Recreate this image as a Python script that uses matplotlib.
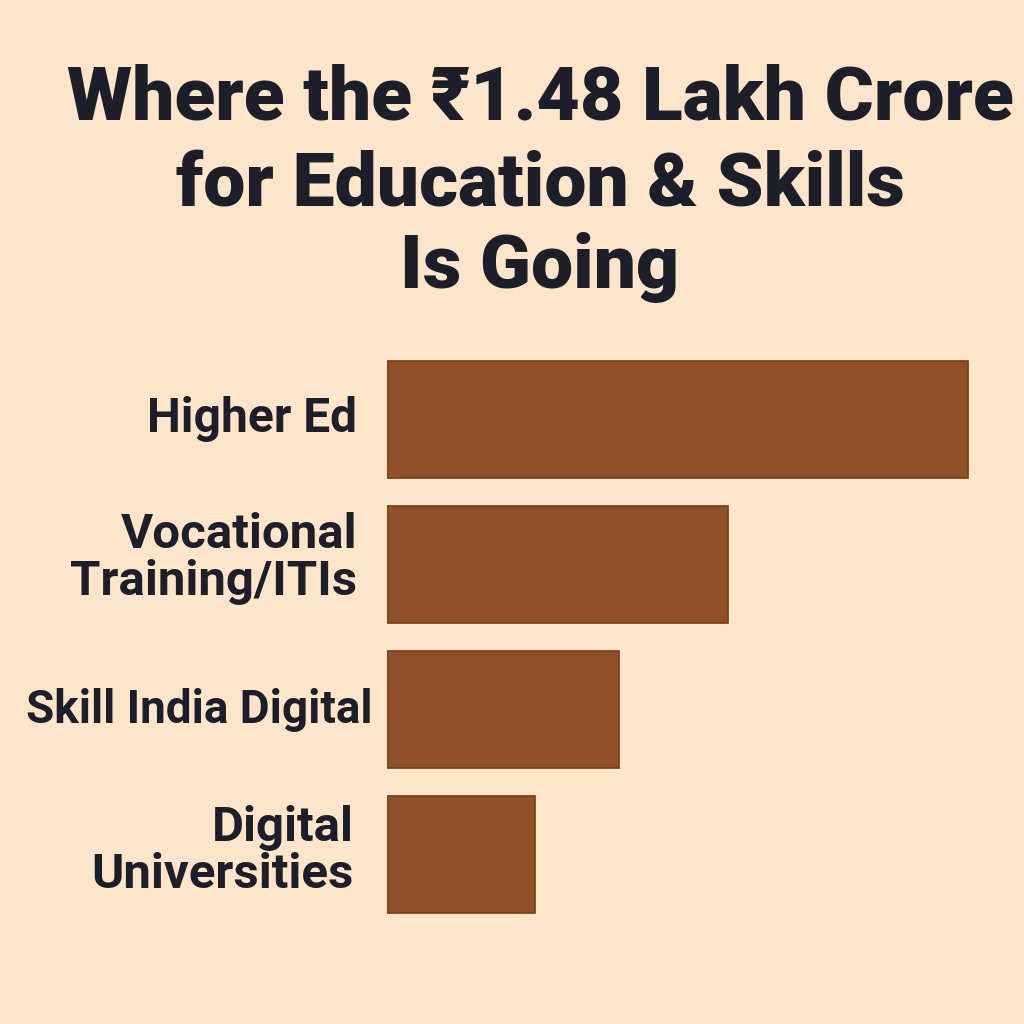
import matplotlib
matplotlib.use("Agg")
import matplotlib.pyplot as plt
import matplotlib.transforms as mtransforms

categories = ["Higher Ed", "Vocational\nTraining/ITIs", "Skill India Digital", "Digital\nUniversities"]
values = [58.1, 34.1, 23.2, 14.8]
title_lines = ["Where the \u20b91.48 Lakh Crore", "for Education & Skills", "Is Going"]

bg = "#FDE5C9"
bar_color = "#8F5028"
edge_color = "#7A3A14"
text_color = "#1C1E2A"
fam = ["Roboto", "DejaVu Sans"]

fig = plt.figure(figsize=(10.24, 10.24), dpi=100, facecolor=bg)
ax = fig.add_axes([387/1024, 1-927/1024, 637/1024, 580/1024])
ax.set_facecolor(bg)
ypos = list(range(len(categories)))
ax.barh(ypos, values, height=0.807, color=bar_color, edgecolor=edge_color, linewidth=1.2)
ax.set_xlim(0, 63.7)
ax.set_ylim(3.5, -0.5)
ax.set_yticks([])
ax.set_xticks([])
for s in ax.spines.values():
    s.set_visible(False)

trans = mtransforms.blended_transform_factory(ax.transAxes, ax.transData)
label_x = [-30/637, -30/637, -14/637, -33/637]
label_size = [34.5, 35.5, 33, 35.5]
label_dy = [0, -0.04, 0, -0.02]
for y, lab, lx, fs, dy in zip(ypos, categories, label_x, label_size, label_dy):
    ax.text(lx, y + dy, lab, transform=trans, ha="right", va="center", fontsize=fs,
            fontweight="bold", color=text_color, family=fam, linespacing=1.03,
            multialignment="right")

baselines = [120, 205, 288]
for line, b in zip(title_lines, baselines):
    fig.text(540/1024, 1-b/1024, line, ha="center", va="baseline", fontsize=54,
             fontweight="black", color=text_color, family=fam)

fig.savefig("out.png", dpi=100, facecolor=bg)
